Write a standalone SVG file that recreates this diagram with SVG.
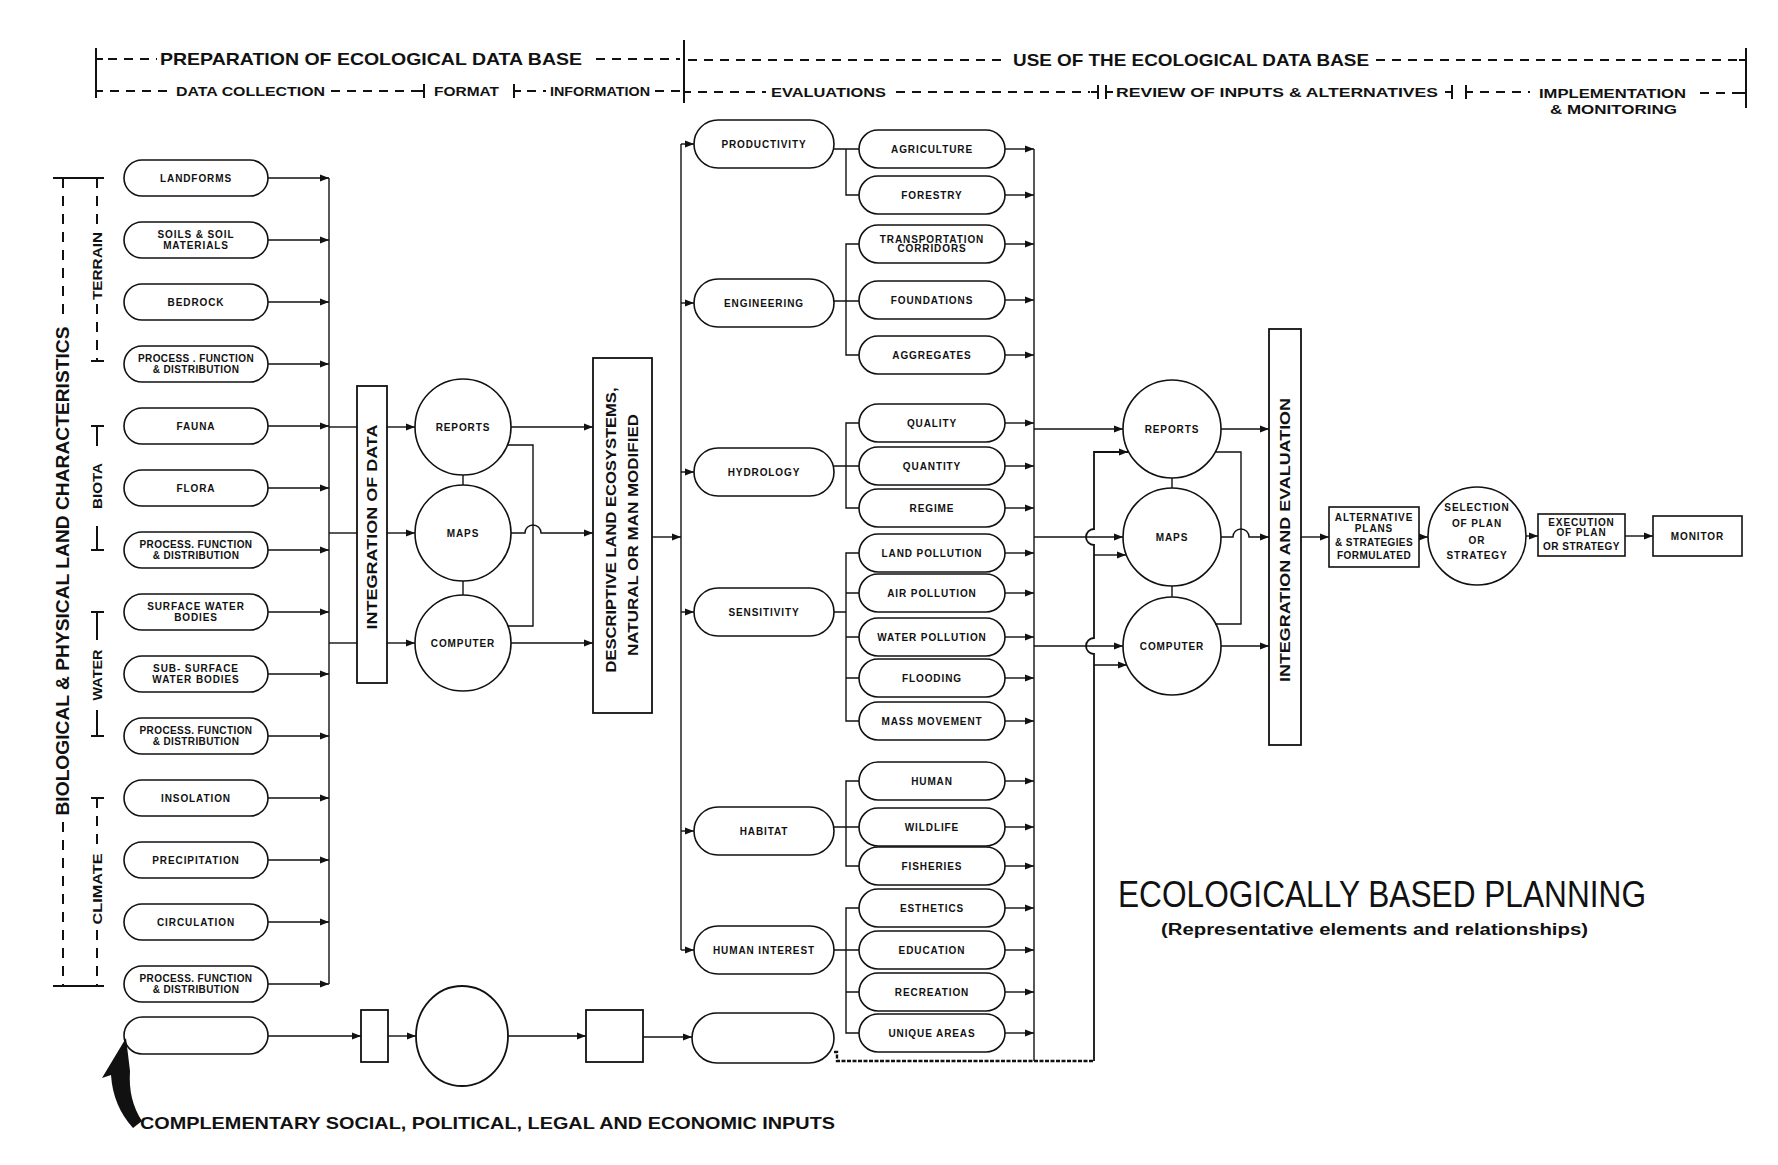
<svg xmlns="http://www.w3.org/2000/svg" width="1778" height="1165" viewBox="0 0 1778 1165">
<defs>
<style>
.n{fill:#fff;stroke:#111;stroke-width:1.6}
.b{fill:#fff;stroke:#111;stroke-width:1.8}
.l{fill:none;stroke:#111;stroke-width:1.4}
.la{fill:none;stroke:#111;stroke-width:1.4;marker-end:url(#a)}
.d{fill:none;stroke:#111;stroke-width:2;stroke-dasharray:9 7}
.dv{fill:none;stroke:#111;stroke-width:2;stroke-dasharray:10 8}
.h{fill:none;stroke:#111;stroke-width:2}
.rough{fill:none;stroke:#111;stroke-width:2.4;stroke-dasharray:4 1.5}
text{font-family:"Liberation Sans",Arial,sans-serif;font-weight:bold;fill:#111}
.t{font-size:10px;letter-spacing:0.9px;text-anchor:middle}
.hd1{font-size:17px}
.hd2{font-size:13px}
.big{font-size:14.5px;text-anchor:middle}
.cat{font-size:13.5px;text-anchor:middle}
</style>
<marker id="a" markerWidth="10" markerHeight="8" refX="9" refY="4" orient="auto" markerUnits="userSpaceOnUse"><path d="M0,0.6 L9,4 L0,7.4 z" fill="#111"/></marker>
</defs>
<rect width="1778" height="1165" fill="#fff"/>

<g id="header">
<line class="h" x1="96" y1="48" x2="96" y2="98"/>
<line class="h" x1="96" y1="59" x2="103" y2="59"/>
<line class="d" x1="108" y1="59" x2="157" y2="59"/>
<text class="hd1" x="160" y="65" textLength="422" lengthAdjust="spacingAndGlyphs">PREPARATION  OF  ECOLOGICAL  DATA  BASE</text>
<line class="d" x1="596" y1="59" x2="680" y2="59"/>
<line class="h" x1="684" y1="40" x2="684" y2="103"/>
<line class="d" x1="688" y1="60" x2="1008" y2="60"/>
<text class="hd1" x="1013" y="66" textLength="356" lengthAdjust="spacingAndGlyphs">USE OF THE ECOLOGICAL DATA BASE</text>
<line class="d" x1="1376" y1="60" x2="1740" y2="60"/>
<line class="h" x1="1746" y1="48" x2="1746" y2="108"/>
<line class="h" x1="1739" y1="60" x2="1746" y2="60"/>

<line class="h" x1="96" y1="91" x2="103" y2="91"/>
<line class="d" x1="110" y1="91" x2="172" y2="91"/>
<text class="hd2" x="176" y="96" textLength="149" lengthAdjust="spacingAndGlyphs">DATA COLLECTION</text>
<line class="d" x1="331" y1="91" x2="418" y2="91"/>
<line class="h" x1="417" y1="91" x2="424" y2="91"/>
<line class="h" x1="424" y1="84" x2="424" y2="98"/>
<text class="hd2" x="434" y="96" textLength="65" lengthAdjust="spacingAndGlyphs">FORMAT</text>
<line class="h" x1="514" y1="84" x2="514" y2="98"/>
<line class="h" x1="514" y1="91" x2="521" y2="91"/>
<line class="d" x1="527" y1="91" x2="546" y2="91"/>
<text class="hd2" x="550" y="96" textLength="100" lengthAdjust="spacingAndGlyphs">INFORMATION</text>
<line class="d" x1="655" y1="91" x2="680" y2="91"/>
<line class="h" x1="684" y1="92" x2="691" y2="92"/>
<line class="d" x1="698" y1="92" x2="766" y2="92"/>
<text class="hd2" x="771" y="97" textLength="115" lengthAdjust="spacingAndGlyphs">EVALUATIONS</text>
<line class="d" x1="896" y1="92" x2="1090" y2="92"/>
<line class="h" x1="1091" y1="92" x2="1098" y2="92"/>
<line class="h" x1="1098" y1="85" x2="1098" y2="99"/>
<line class="h" x1="1106" y1="85" x2="1106" y2="99"/>
<line class="h" x1="1106" y1="92" x2="1113" y2="92"/>
<text class="hd2" x="1116" y="97" textLength="322" lengthAdjust="spacingAndGlyphs">REVIEW OF INPUTS &amp; ALTERNATIVES</text>
<line class="h" x1="1445" y1="92" x2="1452" y2="92"/>
<line class="h" x1="1452" y1="85" x2="1452" y2="99"/>
<line class="h" x1="1466" y1="85" x2="1466" y2="99"/>
<line class="h" x1="1466" y1="92" x2="1473" y2="92"/>
<line class="d" x1="1480" y1="92" x2="1530" y2="92"/>
<text class="hd2" x="1539" y="98" textLength="147" lengthAdjust="spacingAndGlyphs">IMPLEMENTATION</text>
<text class="hd2" x="1550" y="114" textLength="127" lengthAdjust="spacingAndGlyphs">&amp; MONITORING</text>
<line class="d" x1="1700" y1="93" x2="1740" y2="93"/>
<line class="h" x1="1739" y1="93" x2="1746" y2="93"/>
</g>

<g id="side-labels">
<text transform="translate(69,571) rotate(-90)" style="font-size:19px;text-anchor:middle" textLength="489" lengthAdjust="spacingAndGlyphs">BIOLOGICAL &amp; PHYSICAL LAND CHARACTERISTICS</text>
<line class="h" x1="53" y1="178" x2="104" y2="178"/>
<line class="h" x1="53" y1="986" x2="104" y2="986"/>
<line class="dv" x1="63" y1="178" x2="63" y2="322"/>
<line class="dv" x1="63" y1="822" x2="63" y2="986"/>
<line class="dv" x1="97" y1="178" x2="97" y2="228"/>
<text class="cat" transform="translate(102,266) rotate(-90)" textLength="68" lengthAdjust="spacingAndGlyphs">TERRAIN</text>
<line class="dv" x1="97" y1="304" x2="97" y2="361"/>
<line class="h" x1="91" y1="361" x2="104" y2="361"/>
<line class="h" x1="91" y1="426" x2="104" y2="426"/>
<line class="h" x1="97" y1="426" x2="97" y2="446"/>
<text class="cat" transform="translate(102,486) rotate(-90)" textLength="46" lengthAdjust="spacingAndGlyphs">BIOTA</text>
<line class="h" x1="97" y1="526" x2="97" y2="550"/>
<line class="h" x1="91" y1="550" x2="104" y2="550"/>
<line class="h" x1="91" y1="612" x2="104" y2="612"/>
<line class="h" x1="97" y1="612" x2="97" y2="640"/>
<text class="cat" transform="translate(102,675) rotate(-90)" textLength="51" lengthAdjust="spacingAndGlyphs">WATER</text>
<line class="h" x1="97" y1="710" x2="97" y2="736"/>
<line class="h" x1="91" y1="736" x2="104" y2="736"/>
<line class="h" x1="91" y1="798" x2="104" y2="798"/>
<line class="dv" x1="97" y1="798" x2="97" y2="848"/>
<text class="cat" transform="translate(102,889) rotate(-90)" textLength="71" lengthAdjust="spacingAndGlyphs">CLIMATE</text>
<line class="dv" x1="97" y1="930" x2="97" y2="986"/>
</g>

<g id="n-landforms"><rect class="n" x="124" y="160" width="144" height="36" rx="18"/><text class="t" x="196" y="181.6">LANDFORMS</text></g>
<g id="n-soils"><rect class="n" x="124" y="222" width="144" height="36" rx="18"/><text class="t" x="196" y="238.2">SOILS &amp; SOIL</text><text class="t" x="196" y="249.2">MATERIALS</text></g>
<g id="n-bedrock"><rect class="n" x="124" y="284" width="144" height="36" rx="18"/><text class="t" x="196" y="305.6">BEDROCK</text></g>
<g id="n-process1"><rect class="n" x="124" y="346" width="144" height="36" rx="18"/><text class="t" x="196" y="362.2" style="letter-spacing:0.4px">PROCESS . FUNCTION</text><text class="t" x="196" y="373.2" style="letter-spacing:0.4px">&amp; DISTRIBUTION</text></g>
<g id="n-fauna"><rect class="n" x="124" y="408" width="144" height="36" rx="18"/><text class="t" x="196" y="429.6">FAUNA</text></g>
<g id="n-flora"><rect class="n" x="124" y="470" width="144" height="36" rx="18"/><text class="t" x="196" y="491.6">FLORA</text></g>
<g id="n-process2"><rect class="n" x="124" y="532" width="144" height="36" rx="18"/><text class="t" x="196" y="548.2" style="letter-spacing:0.4px">PROCESS. FUNCTION</text><text class="t" x="196" y="559.2" style="letter-spacing:0.4px">&amp; DISTRIBUTION</text></g>
<g id="n-surface"><rect class="n" x="124" y="594" width="144" height="36" rx="18"/><text class="t" x="196" y="610.2">SURFACE  WATER</text><text class="t" x="196" y="621.2">BODIES</text></g>
<g id="n-subsurface"><rect class="n" x="124" y="656" width="144" height="36" rx="18"/><text class="t" x="196" y="672.2">SUB- SURFACE</text><text class="t" x="196" y="683.2">WATER  BODIES</text></g>
<g id="n-process3"><rect class="n" x="124" y="718" width="144" height="36" rx="18"/><text class="t" x="196" y="734.2" style="letter-spacing:0.4px">PROCESS. FUNCTION</text><text class="t" x="196" y="745.2" style="letter-spacing:0.4px">&amp; DISTRIBUTION</text></g>
<g id="n-insolation"><rect class="n" x="124" y="780" width="144" height="36" rx="18"/><text class="t" x="196" y="801.6">INSOLATION</text></g>
<g id="n-precipitation"><rect class="n" x="124" y="842" width="144" height="36" rx="18"/><text class="t" x="196" y="863.6">PRECIPITATION</text></g>
<g id="n-circulation"><rect class="n" x="124" y="904" width="144" height="36" rx="18"/><text class="t" x="196" y="925.6">CIRCULATION</text></g>
<g id="n-process4"><rect class="n" x="124" y="966" width="144" height="36" rx="18"/><text class="t" x="196" y="982.2" style="letter-spacing:0.4px">PROCESS. FUNCTION</text><text class="t" x="196" y="993.2" style="letter-spacing:0.4px">&amp; DISTRIBUTION</text></g>

<g id="n-integration-data"><rect class="b" x="357" y="386" width="30" height="297"/><text class="big" transform="translate(377,527) rotate(-90)" textLength="205" lengthAdjust="spacingAndGlyphs">INTEGRATION OF DATA</text></g>
<g id="n-reports1"><circle class="n" cx="463" cy="427" r="48"/><text class="t" x="463" y="430.6">REPORTS</text></g>
<g id="n-maps1"><circle class="n" cx="463" cy="533" r="48"/><text class="t" x="463" y="536.6">MAPS</text></g>
<g id="n-computer1"><circle class="n" cx="463" cy="643" r="48"/><text class="t" x="463" y="646.6">COMPUTER</text></g>
<g id="n-descriptive"><rect class="b" x="593" y="358" width="59" height="355"/><text class="big" transform="translate(616,530) rotate(-90)" textLength="285" lengthAdjust="spacingAndGlyphs">DESCRIPTIVE LAND ECOSYSTEMS,</text><text class="big" transform="translate(638,535) rotate(-90)" textLength="242" lengthAdjust="spacingAndGlyphs">NATURAL OR MAN MODIFIED</text></g>

<g id="n-productivity"><rect class="n" x="694" y="120" width="140" height="48" rx="24"/><text class="t" x="764" y="147.6">PRODUCTIVITY</text></g>
<g id="n-engineering"><rect class="n" x="694" y="279" width="140" height="48" rx="24"/><text class="t" x="764" y="306.6">ENGINEERING</text></g>
<g id="n-hydrology"><rect class="n" x="694" y="448" width="140" height="48" rx="24"/><text class="t" x="764" y="475.6">HYDROLOGY</text></g>
<g id="n-sensitivity"><rect class="n" x="694" y="588" width="140" height="48" rx="24"/><text class="t" x="764" y="615.6">SENSITIVITY</text></g>
<g id="n-habitat"><rect class="n" x="694" y="807" width="140" height="48" rx="24"/><text class="t" x="764" y="834.6">HABITAT</text></g>
<g id="n-human-interest"><rect class="n" x="694" y="926" width="140" height="48" rx="24"/><text class="t" x="764" y="953.6">HUMAN  INTEREST</text></g>

<g id="n-agriculture"><rect class="n" x="859" y="130" width="146" height="38" rx="19"/><text class="t" x="932" y="152.6">AGRICULTURE</text></g>
<g id="n-forestry"><rect class="n" x="859" y="176" width="146" height="38" rx="19"/><text class="t" x="932" y="198.6">FORESTRY</text></g>
<g id="n-transportation"><rect class="n" x="859" y="225" width="146" height="38" rx="19"/><text class="t" x="932" y="242.8">TRANSPORTATION</text><text class="t" x="932" y="252.3">CORRIDORS</text></g>
<g id="n-foundations"><rect class="n" x="859" y="281" width="146" height="38" rx="19"/><text class="t" x="932" y="303.6">FOUNDATIONS</text></g>
<g id="n-aggregates"><rect class="n" x="859" y="336" width="146" height="38" rx="19"/><text class="t" x="932" y="358.6">AGGREGATES</text></g>
<g id="n-quality"><rect class="n" x="859" y="404" width="146" height="38" rx="19"/><text class="t" x="932" y="426.6">QUALITY</text></g>
<g id="n-quantity"><rect class="n" x="859" y="447" width="146" height="38" rx="19"/><text class="t" x="932" y="469.6">QUANTITY</text></g>
<g id="n-regime"><rect class="n" x="859" y="489" width="146" height="38" rx="19"/><text class="t" x="932" y="511.6">REGIME</text></g>
<g id="n-land-pollution"><rect class="n" x="859" y="534" width="146" height="38" rx="19"/><text class="t" x="932" y="556.6">LAND POLLUTION</text></g>
<g id="n-air-pollution"><rect class="n" x="859" y="574" width="146" height="38" rx="19"/><text class="t" x="932" y="596.6">AIR POLLUTION</text></g>
<g id="n-water-pollution"><rect class="n" x="859" y="618" width="146" height="38" rx="19"/><text class="t" x="932" y="640.6">WATER  POLLUTION</text></g>
<g id="n-flooding"><rect class="n" x="859" y="659" width="146" height="38" rx="19"/><text class="t" x="932" y="681.6">FLOODING</text></g>
<g id="n-mass-movement"><rect class="n" x="859" y="702" width="146" height="38" rx="19"/><text class="t" x="932" y="724.6">MASS   MOVEMENT</text></g>
<g id="n-human"><rect class="n" x="859" y="762" width="146" height="38" rx="19"/><text class="t" x="932" y="784.6">HUMAN</text></g>
<g id="n-wildlife"><rect class="n" x="859" y="808" width="146" height="38" rx="19"/><text class="t" x="932" y="830.6">WILDLIFE</text></g>
<g id="n-fisheries"><rect class="n" x="859" y="847" width="146" height="38" rx="19"/><text class="t" x="932" y="869.6">FISHERIES</text></g>
<g id="n-esthetics"><rect class="n" x="859" y="889" width="146" height="38" rx="19"/><text class="t" x="932" y="911.6">ESTHETICS</text></g>
<g id="n-education"><rect class="n" x="859" y="931" width="146" height="38" rx="19"/><text class="t" x="932" y="953.6">EDUCATION</text></g>
<g id="n-recreation"><rect class="n" x="859" y="973" width="146" height="38" rx="19"/><text class="t" x="932" y="995.6">RECREATION</text></g>
<g id="n-unique-areas"><rect class="n" x="859" y="1014" width="146" height="38" rx="19"/><text class="t" x="932" y="1036.6">UNIQUE  AREAS</text></g>

<g id="n-reports2"><circle class="n" cx="1172" cy="429" r="49"/><text class="t" x="1172" y="432.6">REPORTS</text></g>
<g id="n-maps2"><circle class="n" cx="1172" cy="537" r="49"/><text class="t" x="1172" y="540.6">MAPS</text></g>
<g id="n-computer2"><circle class="n" cx="1172" cy="646" r="49"/><text class="t" x="1172" y="649.6">COMPUTER</text></g>
<g id="n-integration-eval"><rect class="b" x="1269" y="329" width="32" height="416"/><text class="big" transform="translate(1290,540) rotate(-90)" textLength="284" lengthAdjust="spacingAndGlyphs">INTEGRATION  AND  EVALUATION</text></g>
<g id="n-alternative"><rect class="n" x="1329" y="507" width="90" height="60"/><text class="t" x="1374" y="521">ALTERNATIVE</text><text class="t" x="1374" y="532">PLANS</text><text class="t" x="1374" y="546" style="letter-spacing:0.4px">&amp; STRATEGIES</text><text class="t" x="1374" y="559" style="letter-spacing:0.5px">FORMULATED</text></g>
<g id="n-selection"><circle class="n" cx="1477" cy="536" r="49"/><text class="t" x="1477" y="511">SELECTION</text><text class="t" x="1477" y="526.5">OF  PLAN</text><text class="t" x="1477" y="543.5">OR</text><text class="t" x="1477" y="558.5">STRATEGY</text></g>
<g id="n-execution"><rect class="n" x="1538" y="514" width="87" height="42"/><text class="t" x="1581.5" y="525.5">EXECUTION</text><text class="t" x="1581.5" y="535.5">OF  PLAN</text><text class="t" x="1581.5" y="549.5" style="letter-spacing:0.5px">OR  STRATEGY</text></g>
<g id="n-monitor"><rect class="n" x="1653" y="516" width="89" height="40"/><text class="t" x="1697.5" y="539.6">MONITOR</text></g>

<g id="n-blank1"><rect class="n" x="124" y="1017" width="144" height="37" rx="18.5"/></g>
<g id="n-blank-rect"><rect class="b" x="361" y="1010" width="27" height="52"/></g>
<g id="n-blank-circle"><ellipse class="b" cx="462" cy="1036" rx="46" ry="50"/></g>
<g id="n-blank-square"><rect class="b" x="586" y="1010" width="57" height="52"/></g>
<g id="n-blank-stadium"><rect class="n" x="692" y="1013" width="142" height="50" rx="25"/></g>

<g id="connectors">
<line class="la" x1="268" y1="178" x2="329" y2="178"/>
<line class="la" x1="268" y1="240" x2="329" y2="240"/>
<line class="la" x1="268" y1="302" x2="329" y2="302"/>
<line class="la" x1="268" y1="364" x2="329" y2="364"/>
<line class="la" x1="268" y1="426" x2="329" y2="426"/>
<line class="la" x1="268" y1="488" x2="329" y2="488"/>
<line class="la" x1="268" y1="550" x2="329" y2="550"/>
<line class="la" x1="268" y1="612" x2="329" y2="612"/>
<line class="la" x1="268" y1="674" x2="329" y2="674"/>
<line class="la" x1="268" y1="736" x2="329" y2="736"/>
<line class="la" x1="268" y1="798" x2="329" y2="798"/>
<line class="la" x1="268" y1="860" x2="329" y2="860"/>
<line class="la" x1="268" y1="922" x2="329" y2="922"/>
<line class="la" x1="268" y1="984" x2="329" y2="984"/>
<line class="l" x1="329" y1="178" x2="329" y2="984"/>
<line class="l" x1="329" y1="427" x2="357" y2="427"/>
<line class="l" x1="329" y1="533" x2="357" y2="533"/>
<line class="l" x1="329" y1="643" x2="357" y2="643"/>
<line class="la" x1="387" y1="427" x2="415" y2="427"/>
<line class="la" x1="387" y1="533" x2="415" y2="533"/>
<line class="la" x1="387" y1="643" x2="415" y2="643"/>
<line class="l" x1="463" y1="475" x2="463" y2="485"/>
<line class="l" x1="463" y1="581" x2="463" y2="595"/>
<line class="la" x1="511" y1="427" x2="593" y2="427"/>
<path class="la" d="M511,533 H525 A8,8 0 0 1 541,533 H593"/>
<line class="la" x1="511" y1="643" x2="593" y2="643"/>
<path class="l" d="M508,445 H533 V626 H508"/>
<line class="la" x1="652" y1="537" x2="681" y2="537"/>
<line class="l" x1="681" y1="144" x2="681" y2="950"/>
<line class="la" x1="681" y1="144" x2="694" y2="144"/>
<line class="la" x1="681" y1="303" x2="694" y2="303"/>
<line class="la" x1="681" y1="472" x2="694" y2="472"/>
<line class="la" x1="681" y1="612" x2="694" y2="612"/>
<line class="la" x1="681" y1="831" x2="694" y2="831"/>
<line class="la" x1="681" y1="950" x2="694" y2="950"/>
<path class="l" d="M834,149 H859 M846,149 V195 H859"/>
<path class="l" d="M834,301 H859 M859,244 H846 V355 H859"/>
<path class="l" d="M834,466 H859 M859,423 H846 V508 H859"/>
<path class="l" d="M834,612 H846 M859,553 H846 V721 H859 M846,593 H859 M846,637 H859 M846,678 H859"/>
<path class="l" d="M834,827 H859 M859,781 H846 V866 H859"/>
<path class="l" d="M834,950 H859 M859,908 H846 V1033 H859 M846,992 H859"/>
<line class="la" x1="1005" y1="149" x2="1034" y2="149"/>
<line class="la" x1="1005" y1="195" x2="1034" y2="195"/>
<line class="la" x1="1005" y1="244" x2="1034" y2="244"/>
<line class="la" x1="1005" y1="300" x2="1034" y2="300"/>
<line class="la" x1="1005" y1="355" x2="1034" y2="355"/>
<line class="la" x1="1005" y1="423" x2="1034" y2="423"/>
<line class="la" x1="1005" y1="466" x2="1034" y2="466"/>
<line class="la" x1="1005" y1="508" x2="1034" y2="508"/>
<line class="la" x1="1005" y1="553" x2="1034" y2="553"/>
<line class="la" x1="1005" y1="593" x2="1034" y2="593"/>
<line class="la" x1="1005" y1="637" x2="1034" y2="637"/>
<line class="la" x1="1005" y1="678" x2="1034" y2="678"/>
<line class="la" x1="1005" y1="721" x2="1034" y2="721"/>
<line class="la" x1="1005" y1="781" x2="1034" y2="781"/>
<line class="la" x1="1005" y1="827" x2="1034" y2="827"/>
<line class="la" x1="1005" y1="866" x2="1034" y2="866"/>
<line class="la" x1="1005" y1="908" x2="1034" y2="908"/>
<line class="la" x1="1005" y1="950" x2="1034" y2="950"/>
<line class="la" x1="1005" y1="992" x2="1034" y2="992"/>
<line class="la" x1="1005" y1="1033" x2="1034" y2="1033"/>
<line class="l" x1="1034" y1="149" x2="1034" y2="1061"/>
<line class="la" x1="1034" y1="429" x2="1123" y2="429"/>
<line class="la" x1="1034" y1="537" x2="1123" y2="537"/>
<line class="la" x1="1034" y1="646" x2="1123" y2="646"/>
<path class="rough" d="M834,1052 H837 V1061 H1094"/>
<path class="la" style="stroke-width:1.8" d="M1094,1061 V654 A8,8 0 0 1 1094,638 V545 A8,8 0 0 1 1094,529 V452 H1128"/>
<line class="la" x1="1094" y1="555" x2="1126" y2="555"/>
<line class="la" x1="1094" y1="665" x2="1127" y2="665"/>
<line class="l" x1="1172" y1="478" x2="1172" y2="488"/>
<line class="l" x1="1172" y1="586" x2="1172" y2="597"/>
<line class="la" x1="1221" y1="429" x2="1269" y2="429"/>
<path class="la" d="M1221,537 H1233 A8,8 0 0 1 1249,537 H1269"/>
<line class="la" x1="1221" y1="646" x2="1269" y2="646"/>
<path class="l" d="M1215,452 H1241 V624 H1215"/>
<line class="la" x1="1301" y1="537" x2="1329" y2="537"/>
<line class="la" x1="1419" y1="537" x2="1428" y2="537"/>
<line class="la" x1="1526" y1="536" x2="1538" y2="536"/>
<line class="la" x1="1625" y1="536" x2="1653" y2="536"/>
<line class="la" x1="268" y1="1036" x2="361" y2="1036"/>
<line class="la" x1="388" y1="1036" x2="416" y2="1036"/>
<line class="la" x1="508" y1="1036" x2="586" y2="1036"/>
<line class="la" x1="643" y1="1037" x2="692" y2="1037"/>
<path d="M126,1038 L102,1078 L111,1075 Q113,1106 133,1128 L142,1121 Q128,1100 130,1071 Z" fill="#111"/>
</g>

<g id="titles">
<text x="1118" y="907" style="font-weight:normal;font-size:37px" textLength="528" lengthAdjust="spacingAndGlyphs">ECOLOGICALLY BASED PLANNING</text>
<text x="1161" y="935" style="font-size:16px" textLength="427" lengthAdjust="spacingAndGlyphs">(Representative elements and relationships)</text>
<text x="140" y="1129" style="font-size:17px" textLength="695" lengthAdjust="spacingAndGlyphs">COMPLEMENTARY  SOCIAL, POLITICAL, LEGAL  AND  ECONOMIC  INPUTS</text>
</g>
</svg>
